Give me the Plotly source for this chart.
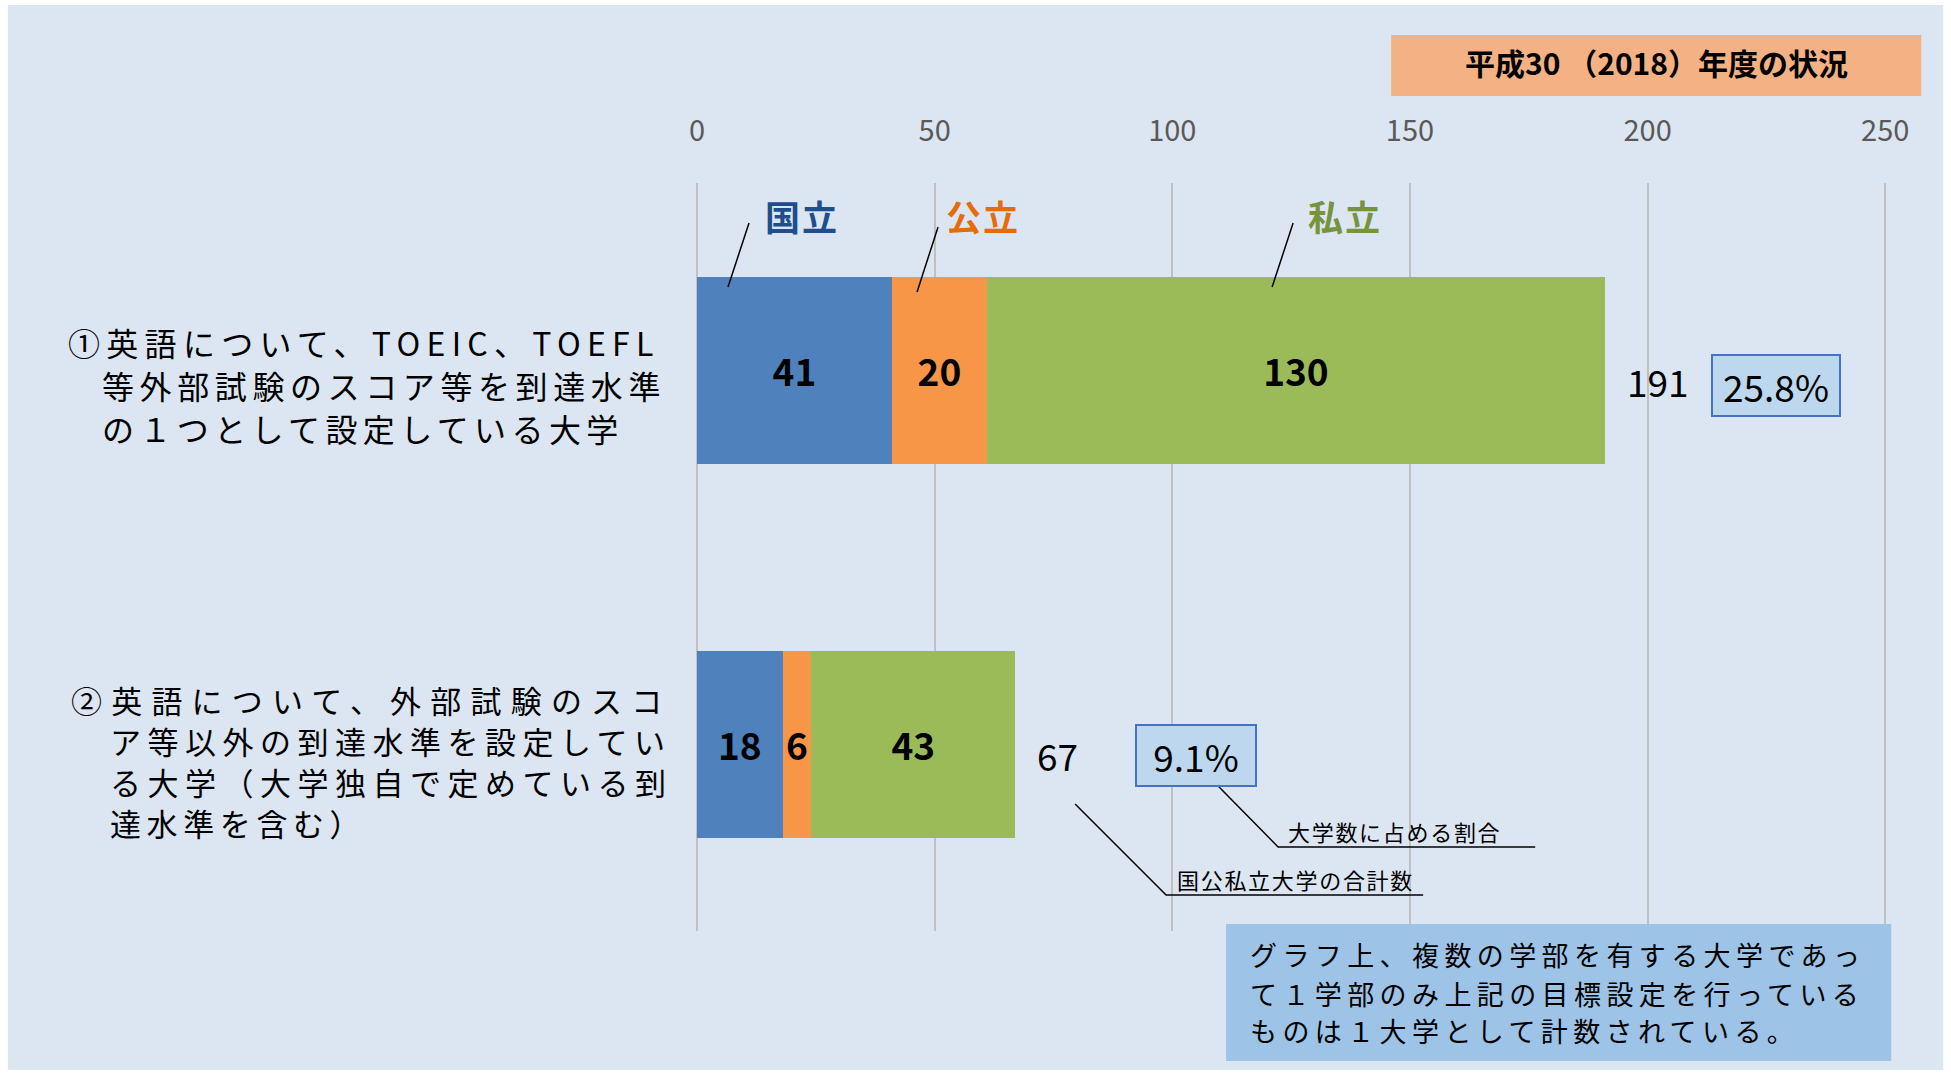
import plotly.graph_objects as go

# ---- data -------------------------------------------------------------
categories = ["英語・外部試験スコアを到達水準の1つとする大学",
              "英語・外部試験以外の到達水準を設定している大学"]
category_lines = [
    ["①英語について、TOEIC、TOEFL", "等外部試験のスコア等を到達水準", "の１つとして設定している大学"],
    ["②英語について、外部試験のスコ", "ア等以外の到達水準を設定してい",
     "る大学（大学独自で定めている到", "達水準を含む）"],
]
series_names = ["国立", "公立", "私立"]
national = [41, 18]
public = [20, 6]
private = [130, 43]
share_pct = [25.8, 9.1]
tick_values = [0, 50, 100, 150, 200, 250]

title_text = "平成30 （2018）年度の状況"
note_lines = ["グラフ上、複数の学部を有する大学であっ",
              "て１学部のみ上記の目標設定を行っている",
              "ものは１大学として計数されている。"]
callout_total = "国公私立大学の合計数"
callout_share = "大学数に占める割合"

# ---- style ------------------------------------------------------------
W, H = 1951, 1073
X_MAX = 251
SCALE = 4.752                      # pixels per unit on the x axis
PL, PT, PB = 697, 183, 931
PR = PL + X_MAX * SCALE
FONT = "Noto Sans CJK JP"
bar_colors = ["#4F81BD", "#F79646", "#9BBB59"]
name_colors = ["#1F4E8C", "#E46C0A", "#77933C"]
BG = "#DCE6F2"


def px(x):
    return (x - PL) / (PR - PL)


def py(y):
    return (PB - y) / (PB - PT)


def spaced(text, ls):
    return f'<span style="letter-spacing:{ls}px">{text}</span>'


totals = [a + b + c for a, b, c in zip(national, public, private)]

fig = go.Figure()
for name, vals, col in zip(series_names, [national, public, private], bar_colors):
    fig.add_trace(go.Bar(
        name=name, y=categories, x=vals, orientation="h",
        marker=dict(color=col, line=dict(width=0)),
        text=vals, texttemplate="<b>%{x}</b>",
        textposition="inside", insidetextanchor="middle",
        textangle=0, constraintext="none",
        textfont=dict(family=FONT, size=37, color="#000000"),
        showlegend=False, hoverinfo="skip",
    ))

shapes = [
    # panel background
    dict(type="rect", xref="paper", yref="paper", layer="below",
         x0=px(8), x1=px(1943), y0=py(1070), y1=py(5),
         fillcolor=BG, line=dict(width=0)),
    # title badge
    dict(type="rect", xref="paper", yref="paper", layer="above",
         x0=px(1391), x1=px(1921), y0=py(96), y1=py(35),
         fillcolor="#F4B183", line=dict(width=0)),
    # footnote box
    dict(type="rect", xref="paper", yref="paper", layer="above",
         x0=px(1226), x1=px(1891), y0=py(1061), y1=py(924),
         fillcolor="#9DC3E6", line=dict(width=0)),
]

# leader lines from series names into the first bar
leaders = [((749, 223), (728, 287)), ((938, 227), (917, 292)), ((1293, 223), (1272, 287))]
for (x0, y0), (x1, y1) in leaders:
    shapes.append(dict(type="line", xref="paper", yref="paper",
                       x0=px(x0), y0=py(y0), x1=px(x1), y1=py(y1),
                       line=dict(color="#000000", width=1.5)))

# callout lines with underline
for pts in [[(1075, 804), (1166, 895), (1423, 895)], [(1218, 786), (1278, 847), (1535, 847)]]:
    path = "M " + " L ".join(f"{px(x)},{py(y)}" for x, y in pts)
    shapes.append(dict(type="path", xref="paper", yref="paper", path=path,
                       line=dict(color="#000000", width=1.5)))

ann = []

# title text
ann.append(dict(xref="paper", yref="paper", x=px(1656), y=py(62),
                xanchor="center", yanchor="middle", showarrow=False,
                text=f"<b>{title_text}</b>",
                font=dict(family=FONT, size=30, color="#000000")))

# series names
name_pos = [(802, 216), (983, 216), (1345, 216)]
for name, col, (x, y) in zip(series_names, name_colors, name_pos):
    ann.append(dict(xref="paper", yref="paper", x=px(x), y=py(y),
                    xanchor="center", yanchor="middle", showarrow=False,
                    text=f"<b>{spaced(name, 2)}</b>",
                    font=dict(family=FONT, size=35, color=col)))

# category labels (left-aligned, hanging first line)
label_layout = [
    dict(x=[66, 100, 100], dy=[-28, 15, 58], size=32, ls=[6.3, 5.6, 5.4]),
    dict(x=[69, 108, 108, 108], dy=[-45, -4, 37, 78], size=31, ls=[9.2, 6.5, 6.5, 5.6]),
]
for cat, lines, lay in zip(categories, category_lines, label_layout):
    for line, x, dy, ls in zip(lines, lay["x"], lay["dy"], lay["ls"]):
        ann.append(dict(xref="paper", yref="y", x=px(x), y=cat,
                        xanchor="left", yanchor="middle", yshift=-dy,
                        showarrow=False, text=spaced(line, ls),
                        font=dict(family=FONT, size=lay["size"], color="#000000")))

# totals next to the bars
for cat, tot in zip(categories, totals):
    ann.append(dict(xref="x", yref="y", x=tot, y=cat, xanchor="left",
                    yanchor="middle", xshift=20, yshift=-11, showarrow=False,
                    text=str(tot), font=dict(family=FONT, size=37, color="#000000")))

# share boxes
share_x = [227.1, 105.0]
share_dy = [15, 11]
share_w = [122, 114]
for cat, p, x, dy, w in zip(categories, share_pct, share_x, share_dy, share_w):
    ann.append(dict(xref="x", yref="y", x=x, y=cat, xanchor="center",
                    yanchor="middle", yshift=-dy, showarrow=False,
                    text=f"{p:.1f}%", bgcolor="#BDD7EE",
                    bordercolor="#4472C4", borderwidth=2, borderpad=2,
                    width=w, height=55,
                    font=dict(family=FONT, size=37, color="#000000")))

# callout captions
ann.append(dict(xref="paper", yref="paper", x=px(1175), y=py(879),
                xanchor="left", yanchor="middle", showarrow=False,
                text=spaced(callout_total, 1.7),
                font=dict(family=FONT, size=22, color="#000000")))
ann.append(dict(xref="paper", yref="paper", x=px(1286), y=py(831),
                xanchor="left", yanchor="middle", showarrow=False,
                text=spaced(callout_share, 1.7),
                font=dict(family=FONT, size=22, color="#000000")))

# footnote text
for line, y in zip(note_lines, [955, 993, 1030]):
    ann.append(dict(xref="paper", yref="paper", x=px(1248), y=py(y),
                    xanchor="left", yanchor="middle", showarrow=False,
                    text=spaced(line, 5.4),
                    font=dict(family=FONT, size=27, color="#000000")))

fig.update_layout(
    width=W, height=H,
    margin=dict(l=PL, r=W - PR, t=PT, b=H - PB, pad=0),
    paper_bgcolor="#FFFFFF", plot_bgcolor="rgba(0,0,0,0)",
    barmode="stack", bargap=0.5,
    font=dict(family=FONT),
    shapes=shapes, annotations=ann,
    xaxis=dict(range=[0, X_MAX], side="top", tickvals=tick_values,
               showgrid=True, gridcolor="#C0C0C0", gridwidth=2,
               zeroline=True, zerolinecolor="#C0C0C0", zerolinewidth=2,
               showline=False, ticks="", ticklabelstandoff=35,
               tickfont=dict(family=FONT, size=29, color="#595959"),
               fixedrange=True),
    yaxis=dict(type="category", categoryorder="array", categoryarray=categories,
               autorange="reversed", showticklabels=False, showgrid=False,
               zeroline=False, showline=False, fixedrange=True),
)

fig.write_html("out.html")
